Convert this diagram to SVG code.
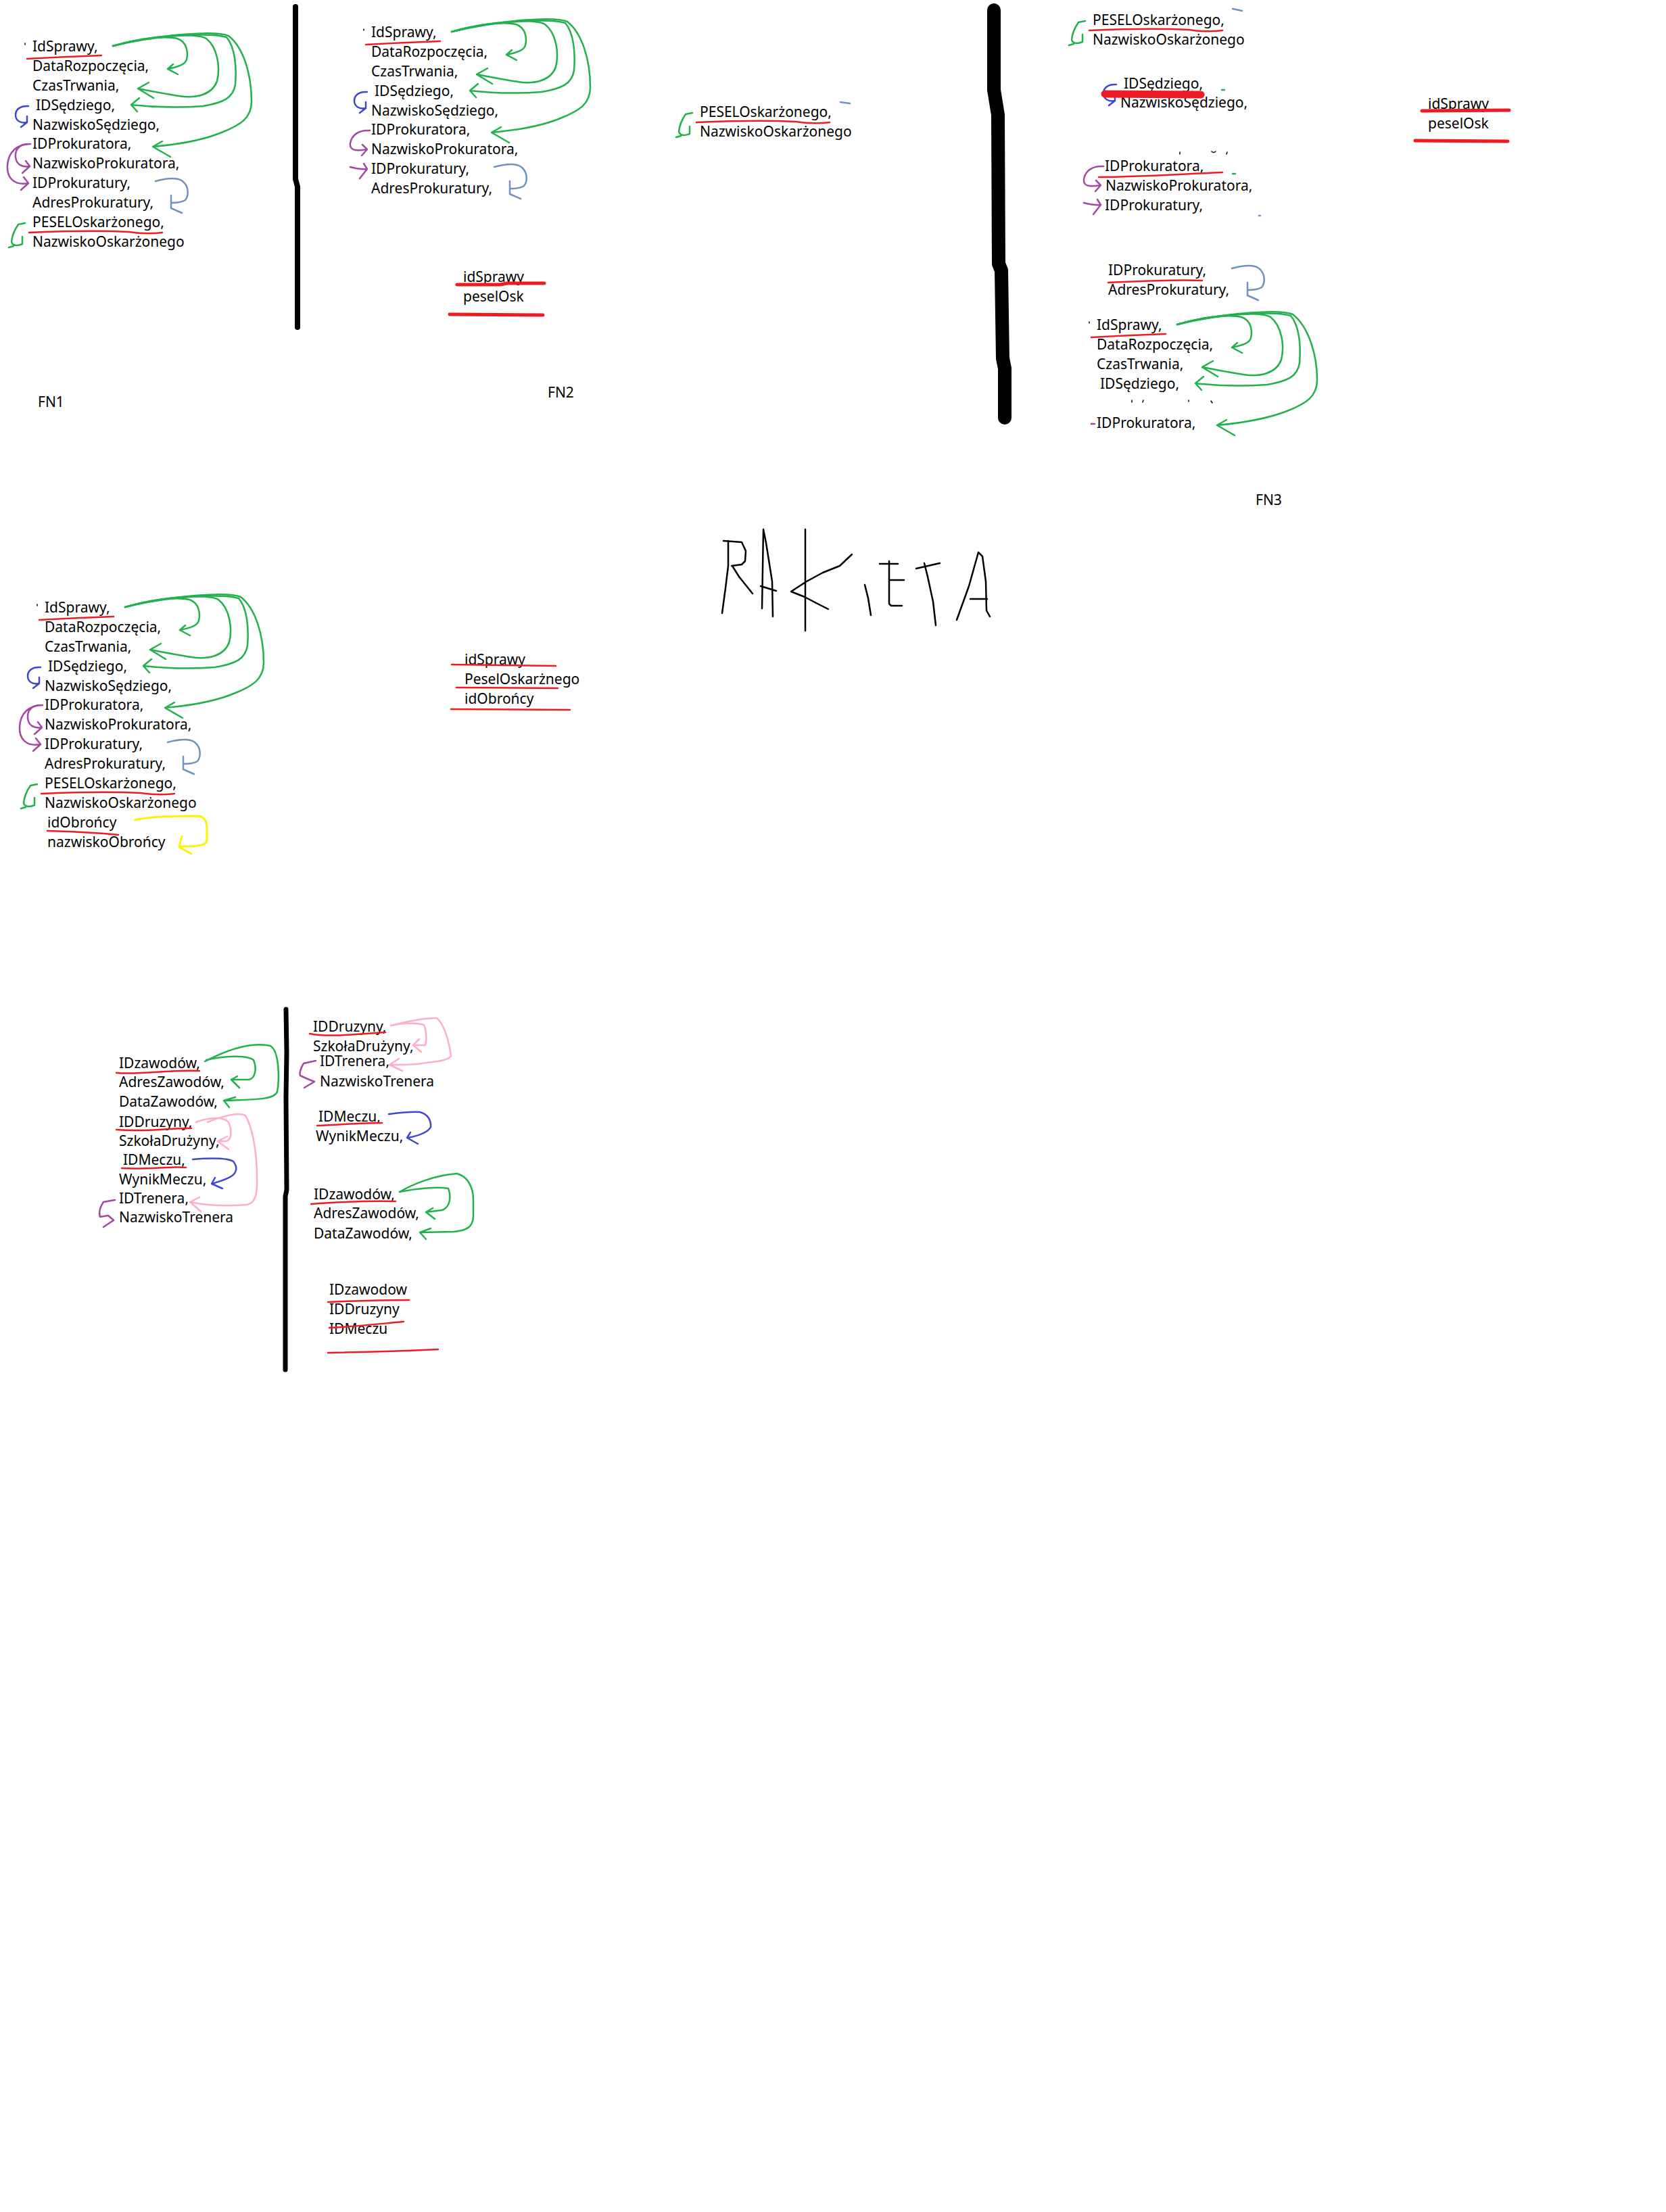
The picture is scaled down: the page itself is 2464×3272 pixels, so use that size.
<svg xmlns="http://www.w3.org/2000/svg" width="2464" height="3272" viewBox="0 0 2464 3272">
<style>
.t{font-family:"Noto Sans","Open Sans",sans-serif;font-size:21px;fill:#000}
.s{fill:none;stroke-linecap:round;stroke-linejoin:round;stroke-width:2.5}
.g{stroke:#22b14c}.r{stroke:#ed1c24}.b{stroke:#3f48cc}.p{stroke:#a349a4}.lb{stroke:#7092be}.pk{stroke:#ffaec9}.y{stroke:#fff200;stroke-width:3}
.k{fill:none;stroke:#000;stroke-linecap:round;stroke-linejoin:round}
.rt{fill:none;stroke:#ed1c24;stroke-linecap:round;stroke-width:5}
</style>
<rect width="2464" height="3272" fill="#fff"/>

<!-- FN1 -->
<g id="fn1">
<text class="t" x="48" y="76">IdSprawy,</text>
<text class="t" x="48" y="105">DataRozpoczęcia,</text>
<text class="t" x="48" y="134">CzasTrwania,</text>
<text class="t" x="53" y="163">IDSędziego,</text>
<text class="t" x="48" y="192">NazwiskoSędziego,</text>
<text class="t" x="48" y="220">IDProkuratora,</text>
<text class="t" x="48" y="249">NazwiskoProkuratora,</text>
<text class="t" x="48" y="278">IDProkuratury,</text>
<text class="t" x="48" y="307">AdresProkuratury,</text>
<text class="t" x="48" y="336">PESELOskarżonego,</text>
<text class="t" x="48" y="365">NazwiskoOskarżonego</text>
<text class="t" x="56" y="602">FN1</text>
</g>
<g id="fn1-marks">
<path class="s g" d="M167,68 C200,58 240,52 262,57 C278,62 278,80 276,88 C274,96 262,99 248,102 M256,95 L248,102 L263,110"/>
<path class="s g" d="M167,68 C220,52 290,48 305,57 C322,70 326,100 321,120 C314,140 290,146 265,142 C240,138 220,134 204,131 M220,122 L204,131 L227,145"/>
<path class="s g" d="M167,68 C230,52 310,48 335,55 C348,70 350,100 348,125 C345,145 330,152 300,157 C260,160 220,158 194,155 M206,145 L194,155 L203,165"/>
<path class="s g" d="M167,68 C240,50 320,45 338,53 C360,70 372,110 372,150 C372,175 355,185 330,195 C300,208 260,214 226,217 M240,209 L226,217 L252,232"/>
<path class="s b" d="M42,157 C30,156 23,162 23,170 C23,178 30,183 40,181 M40,172 L40,181 L31,188"/>
<path class="s p" d="M45,213 C25,213 12,225 11,245 C10,262 20,275 42,271 M35,262 L42,271 L31,281"/>
<path class="s p" d="M40,213 C28,214 22,222 23,232 C24,243 32,248 44,246 M38,238 L44,246 L33,256"/>
<path class="s lb" d="M230,268 C245,264 262,262 270,268 C280,276 279,290 274,296 C268,300 260,300 253,300 M253,289 L253,308 L269,315"/>
<path class="s g" d="M37,330 L27,332 Q18,345 17,358 Q20,366 33,361 L33,350 M13,366 L20,364"/>
<path class="s r" d="M40,87 Q95,84 150,82"/>
<path class="s r" d="M43,344 C90,342 150,341 190,343 C210,346 225,346 240,344"/>
<path class="k" stroke-width="1.5" d="M37,64 v2"/>
<path class="k" stroke-width="8" d="M437,10 L437,265 L440,276 L440,484"/>
</g>

<!-- FN2 -->
<g id="fn2" transform="translate(501,-21)">
<text class="t" x="48" y="76">IdSprawy,</text>
<text class="t" x="48" y="105">DataRozpoczęcia,</text>
<text class="t" x="48" y="134">CzasTrwania,</text>
<text class="t" x="53" y="163">IDSędziego,</text>
<text class="t" x="48" y="192">NazwiskoSędziego,</text>
<text class="t" x="48" y="220">IDProkuratora,</text>
<text class="t" x="48" y="249">NazwiskoProkuratora,</text>
<text class="t" x="48" y="278">IDProkuratury,</text>
<text class="t" x="48" y="307">AdresProkuratury,</text>
<path class="s g" d="M167,68 C200,58 240,52 262,57 C278,62 278,80 276,88 C274,96 262,99 248,102 M256,95 L248,102 L263,110"/>
<path class="s g" d="M167,68 C220,52 290,48 305,57 C322,70 326,100 321,120 C314,140 290,146 265,142 C240,138 220,134 204,131 M220,122 L204,131 L227,145"/>
<path class="s g" d="M167,68 C230,52 310,48 335,55 C348,70 350,100 348,125 C345,145 330,152 300,157 C260,160 220,158 194,155 M206,145 L194,155 L203,165"/>
<path class="s g" d="M167,68 C240,50 320,45 338,53 C360,70 372,110 372,150 C372,175 355,185 330,195 C300,208 260,214 226,217 M240,209 L226,217 L252,232"/>
<path class="s b" d="M42,157 C30,156 23,162 23,170 C23,178 30,183 40,181 M40,172 L40,181 L31,188"/>
<path class="s p" d="M46,214 C29,213 19,221 17,233 C16,243 24,245 41,242 M35,235 L42,242 L34,251 M17,268 C25,270 34,272 42,271 M37,263 L42,271 L31,285"/>
<path class="s lb" d="M230,268 C245,264 262,262 270,268 C280,276 279,290 274,296 C268,300 260,300 253,300 M253,289 L253,308 L269,315"/>
<path class="s r" d="M40,87 Q95,84 150,82"/>
<path class="k" stroke-width="1.5" d="M37,64 v2"/>
</g>
<g id="fn2-key">
<text class="t" x="685" y="417">idSprawy</text>
<text class="t" x="685" y="446">peselOsk</text>
<path class="rt" d="M676,421 L740,421 L750,419 L805,419"/>
<path class="rt" d="M665,465 L803,466"/>
<text class="t" x="810" y="588">FN2</text>
</g>
<g id="fn2-pesel" transform="translate(987,-163)">
<text class="t" x="48" y="336">PESELOskarżonego,</text>
<text class="t" x="48" y="365">NazwiskoOskarżonego</text>
<path class="s g" d="M37,330 L27,332 Q18,345 17,358 Q20,366 33,361 L33,350 M13,366 L20,364"/>
<path class="s r" d="M43,344 C90,342 150,341 190,343 C210,346 225,346 240,344"/>
</g>
<path class="s lb" d="M1243,151 L1257,153"/>

<!-- FN3 -->
<path class="k" stroke-width="20" d="M1470,15 L1470,133 L1476,170 L1477,390 L1481,400 L1483,530 L1486,545 L1486,618"/>
<g id="fn3-pesel" transform="translate(1568,-299)">
<text class="t" x="48" y="336">PESELOskarżonego,</text>
<text class="t" x="48" y="365">NazwiskoOskarżonego</text>
<path class="s g" d="M37,330 L27,332 Q18,345 17,358 Q20,366 33,361 L33,350 M13,366 L20,364"/>
<path class="s r" d="M43,344 C90,342 150,341 190,343 C210,346 225,346 240,344"/>
</g>
<path class="s lb" d="M1823,13 L1837,16"/>
<g id="fn3-sedzia">
<text class="t" x="1662" y="131">IDSędziego,</text>
<text class="t" x="1657" y="159">NazwiskoSędziego,</text>
<path class="s b" transform="translate(1609,-32)" d="M42,157 C30,156 23,162 23,170 C23,178 30,183 40,181 M40,172 L40,181 L31,188"/>
<path fill="none" stroke="#ed1c24" stroke-width="11" stroke-linecap="round" d="M1634,139 L1776,140"/>
<path class="s g" d="M1807,133 h4"/>
<path class="k" stroke-width="1.5" d="M1745,225 v3 M1792,224 q3,3 6,0 M1815,225 l-1,3"/>
</g>
<g id="fn3-prokurator">
<text class="t" x="1634" y="253">IDProkuratora,</text>
<text class="t" x="1635" y="282">NazwiskoProkuratora,</text>
<text class="t" x="1634" y="311">IDProkuratury,</text>
<path class="s p" transform="translate(1586,32)" d="M46,214 C29,213 19,221 17,233 C16,243 24,245 41,242 M35,235 L42,242 L34,251 M17,268 C25,270 34,272 42,271 M37,263 L42,271 L31,285"/>
<path class="s r" stroke-width="3.5" d="M1625,262 C1680,262 1740,258 1808,255"/>
<path class="s g" d="M1823,257 h4"/>
<path class="s lb" d="M1862,319 h2"/>
</g>
<g id="fn3-prokuratura">
<text class="t" x="1639" y="407">IDProkuratury,</text>
<text class="t" x="1639" y="436">AdresProkuratury,</text>
<path class="s r" d="M1639,418 C1686,416 1736,413 1778,415"/>
<path class="s lb" transform="translate(1592,129)" d="M230,268 C245,264 262,262 270,268 C280,276 279,290 274,296 C268,300 260,300 253,300 M253,289 L253,308 L269,315"/>
</g>
<g id="fn3-sprawa" transform="translate(1574,412)">
<text class="t" x="48" y="76">IdSprawy,</text>
<text class="t" x="48" y="105">DataRozpoczęcia,</text>
<text class="t" x="48" y="134">CzasTrwania,</text>
<text class="t" x="53" y="163">IDSędziego,</text>
<text class="t" x="48" y="221">IDProkuratora,</text>
<path class="s g" d="M167,68 C200,58 240,52 262,57 C278,62 278,80 276,88 C274,96 262,99 248,102 M256,95 L248,102 L263,110"/>
<path class="s g" d="M167,68 C220,52 290,48 305,57 C322,70 326,100 321,120 C314,140 290,146 265,142 C240,138 220,134 204,131 M220,122 L204,131 L227,145"/>
<path class="s g" d="M167,68 C230,52 310,48 335,55 C348,70 350,100 348,125 C345,145 330,152 300,157 C260,160 220,158 194,155 M206,145 L194,155 L203,165"/>
<path class="s g" d="M167,68 C240,50 320,45 338,53 C360,70 374,110 374,150 C374,175 357,185 332,195 C300,208 260,214 226,217 M240,209 L226,217 L252,232"/>
<path class="s r" d="M40,87 Q95,84 150,82"/>
<path class="s p" d="M40,215 h5"/>
<path class="k" stroke-width="1.5" d="M37,64 v2 M100,180 v3 M117,180 l-1,3 M184,180 v2 M217,181 l2,3"/>
</g>
<g id="fn3-key">
<text class="t" x="2112" y="161">idSprawy</text>
<text class="t" x="2112" y="190">peselOsk</text>
<path class="rt" d="M2103,164 L2232,163"/>
<path class="rt" d="M2093,208 L2230,209"/>
<text class="t" x="1857" y="747">FN3</text>
</g>

<!-- RAKIETA -->
<g id="rakieta">
<path class="k" stroke-width="2.5" d="M1068,907 L1073,870 L1077,837 L1077,800 M1070,800 L1097,802 L1103,815 L1102,830 L1097,835 L1082,837 M1083,837 L1093,853 L1113,878"/>
<path class="k" stroke-width="2.5" d="M1127,900 L1129,783 L1133,803 L1142,860 L1143,912 M1125,867 L1148,874"/>
<path class="k" stroke-width="2.5" d="M1191,783 L1191,933 M1260,820 L1242,837 L1217,847 L1193,860 L1170,875 L1190,883 L1213,895 L1225,901"/>
<path class="k" stroke-width="2.5" d="M1279,865 L1284,885 L1288,910"/>
<path class="k" stroke-width="2.5" d="M1301,834 L1328,834 M1315,830 L1315,893 L1318,896 L1334,896 M1317,858 L1337,858"/>
<path class="k" stroke-width="2.5" d="M1355,841 L1390,833 M1367,833 L1372,853 L1380,890 L1384,925"/>
<path class="k" stroke-width="2.5" d="M1415,917 L1433,867 L1447,817 L1453,823 L1458,860 L1459,903 L1464,912 M1435,886 L1460,886"/>
</g>

<!-- middle block -->
<g id="fn-obronca" transform="translate(18,830)">
<text class="t" x="48" y="76">IdSprawy,</text>
<text class="t" x="48" y="105">DataRozpoczęcia,</text>
<text class="t" x="48" y="134">CzasTrwania,</text>
<text class="t" x="53" y="163">IDSędziego,</text>
<text class="t" x="48" y="192">NazwiskoSędziego,</text>
<text class="t" x="48" y="220">IDProkuratora,</text>
<text class="t" x="48" y="249">NazwiskoProkuratora,</text>
<text class="t" x="48" y="278">IDProkuratury,</text>
<text class="t" x="48" y="307">AdresProkuratury,</text>
<text class="t" x="48" y="336">PESELOskarżonego,</text>
<text class="t" x="48" y="365">NazwiskoOskarżonego</text>
<text class="t" x="52" y="394">idObrońcy</text>
<text class="t" x="52" y="423">nazwiskoObrońcy</text>
<path class="s g" d="M167,68 C200,58 240,52 262,57 C278,62 278,80 276,88 C274,96 262,99 248,102 M256,95 L248,102 L263,110"/>
<path class="s g" d="M167,68 C220,52 290,48 305,57 C322,70 326,100 321,120 C314,140 290,146 265,142 C240,138 220,134 204,131 M220,122 L204,131 L227,145"/>
<path class="s g" d="M167,68 C230,52 310,48 335,55 C348,70 350,100 348,125 C345,145 330,152 300,157 C260,160 220,158 194,155 M206,145 L194,155 L203,165"/>
<path class="s g" d="M167,68 C240,50 320,45 338,53 C360,70 372,110 372,150 C372,175 355,185 330,195 C300,208 260,214 226,217 M240,209 L226,217 L252,232"/>
<path class="s b" d="M42,157 C30,156 23,162 23,170 C23,178 30,183 40,181 M40,172 L40,181 L31,188"/>
<path class="s p" d="M45,213 C25,213 12,225 11,245 C10,262 20,275 42,271 M35,262 L42,271 L31,281"/>
<path class="s p" d="M40,213 C28,214 22,222 23,232 C24,243 32,248 44,246 M38,238 L44,246 L33,256"/>
<path class="s lb" d="M230,268 C245,264 262,262 270,268 C280,276 279,290 274,296 C268,300 260,300 253,300 M253,289 L253,308 L269,315"/>
<path class="s g" d="M37,330 L27,332 Q18,345 17,358 Q20,366 33,361 L33,350 M13,366 L20,364"/>
<path class="s r" d="M40,87 Q95,84 150,82"/>
<path class="s r" d="M43,344 C90,342 150,341 190,343 C210,346 225,346 240,344"/>
<path class="s r" stroke-width="3.5" d="M52,399 C90,400 130,402 157,405"/>
<path class="s y" d="M182,383 C200,378 240,377 275,377 C285,378 288,385 288,395 L288,413 C287,420 280,422 250,422 M251,407 L247,423 L265,433"/>
<path class="k" stroke-width="1.5" d="M37,64 v2"/>
</g>
<g id="fn-obronca-key">
<text class="t" x="687" y="983">idSprawy</text>
<text class="t" x="687" y="1012">PeselOskarżnego</text>
<text class="t" x="687" y="1041">idObrońcy</text>
<path class="s r" stroke-width="4" d="M668,983 L822,985"/>
<path class="s r" stroke-width="4" d="M675,1017 L825,1018"/>
<path class="s r" stroke-width="4" d="M667,1049 L843,1050"/>
</g>

<!-- bottom -->
<path class="k" stroke-width="7" d="M423,1493 L424,1557 L423,1623 L424,1760 L422,1770 L422,2026"/>
<g id="zawody1">
<text class="t" x="176" y="1580">IDzawodów,</text>
<text class="t" x="176" y="1608">AdresZawodów,</text>
<text class="t" x="176" y="1637">DataZawodów,</text>
<text class="t" x="176" y="1667">IDDruzyny,</text>
<text class="t" x="176" y="1695">SzkołaDrużyny,</text>
<text class="t" x="182" y="1723">IDMeczu,</text>
<text class="t" x="176" y="1752">WynikMeczu,</text>
<text class="t" x="176" y="1780">IDTrenera,</text>
<text class="t" x="176" y="1808">NazwiskoTrenera</text>
<path class="s r" d="M172,1587 C210,1590 250,1582 295,1584"/>
<path class="s r" d="M172,1671 C220,1675 250,1668 283,1669"/>
<path class="s r" d="M180,1728 C220,1730 250,1725 275,1727"/>
<path class="s g" d="M303,1570 C330,1556 370,1540 400,1547 C414,1556 413,1600 410,1615 C405,1628 370,1626 332,1628 M348,1623 L331,1628 L339,1638"/>
<path class="s g" d="M305,1568 C330,1562 365,1560 375,1568 C380,1580 378,1595 368,1597 L343,1597 M351,1592 L342,1597 L354,1609"/>
<path class="s pk" d="M290,1660 C305,1654 330,1650 338,1660 C343,1672 343,1685 335,1688 L322,1688 M336,1681 L322,1688 L338,1700"/>
<path class="s pk" d="M307,1660 C330,1650 355,1645 363,1650 C372,1665 380,1700 380,1740 C381,1765 378,1780 365,1782 C340,1784 310,1784 281,1778 M295,1771 L281,1778 L297,1792"/>
<path class="s b" d="M285,1715 C310,1713 335,1712 345,1718 C352,1726 350,1735 342,1740 C335,1745 325,1747 314,1751 M318,1742 L313,1751 L329,1758"/>
<path class="s p" d="M170,1775 L153,1778 Q145,1790 148,1800 L160,1798 L168,1805 L153,1815"/>
</g>
<g id="zawody2">
<text class="t" x="463" y="1526">IDDruzyny,</text>
<text class="t" x="463" y="1555">SzkołaDrużyny,</text>
<text class="t" x="473" y="1577">IDTrenera,</text>
<text class="t" x="473" y="1607">NazwiskoTrenera</text>
<path class="s r" d="M458,1529 C484,1534 512,1531 570,1527"/>
<path class="s pk" d="M578,1517 C591,1514 615,1512 627,1516 C631,1525 631,1540 629,1546 L612,1546 M620,1537 L611,1546 L623,1556"/>
<path class="s pk" d="M578,1517 C606,1510 629,1505 646,1506 C657,1515 664,1540 667,1562 C661,1570 643,1570 624,1573 C605,1576 587,1575 576,1575 M590,1566 L576,1575 L595,1584"/>
<path class="s p" d="M467,1569 L449,1573 Q442,1585 444,1591 L455,1596 L465,1600 L450,1609"/>
</g>
<g id="mecz2">
<text class="t" x="471" y="1659">IDMeczu,</text>
<text class="t" x="467" y="1688">WynikMeczu,</text>
<path class="s r" d="M469,1665 C503,1664 531,1661 565,1661"/>
<path class="s b" d="M575,1648 C591,1646 610,1644 621,1645 C633,1648 638,1658 637,1667 C633,1675 619,1680 603,1683 M607,1675 L602,1683 L618,1692"/>
</g>
<g id="zawody3">
<text class="t" x="464" y="1774">IDzawodów,</text>
<text class="t" x="464" y="1802">AdresZawodów,</text>
<text class="t" x="464" y="1832">DataZawodów,</text>
<path class="s r" d="M460,1781 C503,1778 549,1776 585,1777"/>
<path class="s g" d="M591,1763 C610,1752 643,1738 676,1736 C691,1740 700,1755 700,1775 L700,1800 C699,1815 691,1820 671,1822 L621,1823 M637,1817 L621,1823 L630,1833"/>
<path class="s g" d="M591,1763 C615,1758 647,1755 663,1758 C667,1768 667,1785 654,1790 L630,1793 M640,1787 L630,1793 L643,1803"/>
</g>
<g id="zawody-key">
<text class="t" x="487" y="1915">IDzawodow</text>
<text class="t" x="487" y="1944">IDDruzyny</text>
<text class="t" x="487" y="1973">IDMeczu</text>
<path class="s r" d="M485,1926 C531,1924 568,1923 605,1923"/>
<path class="s r" d="M487,1964 C531,1962 563,1958 597,1955"/>
<path class="s r" d="M485,2001 C549,2000 605,1998 648,1996"/>
</g>
</svg>
